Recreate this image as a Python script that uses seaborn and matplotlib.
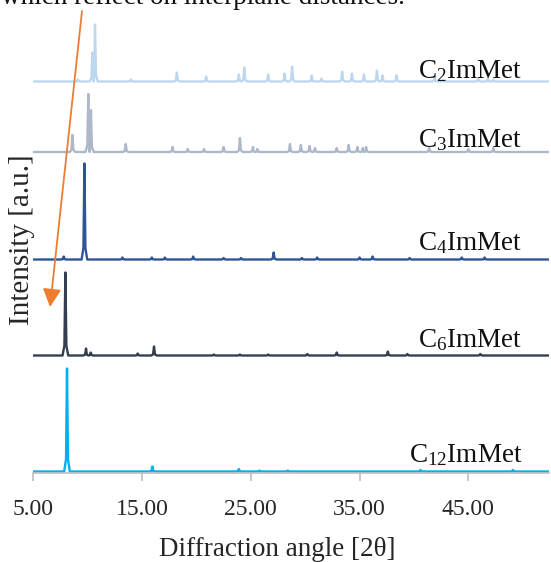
"""XRD patterns of CnImMet salts, stacked with vertical offsets."""
import matplotlib
matplotlib.use("Agg")
import matplotlib.pyplot as plt
import numpy as np
import pandas as pd
import seaborn as sns

# --- data: peak positions (2θ) and heights (a.u.) -------------------------- #
SAMPLES = ["C2", "C3", "C4", "C6", "C12"]
LABELS = ["C$_2$ImMet", "C$_3$ImMet", "C$_4$ImMet", "C$_6$ImMet", "C$_{12}$ImMet"]
OFFSETS = [391.5, 321.0, 213.5, 117.5, 1.5]
COLORS = ["#bdd7ee", "#adb9ca", "#2f5597", "#333f50", "#00b0f0"]

C2_POS = [9.1, 10.43, 10.67, 13.98, 18.2, 20.9, 23.9, 24.4, 26.6, 28.1, 28.8,
          30.6, 31.5, 33.4, 34.3, 35.4, 36.6, 37.1, 38.4, 41.9, 45.9, 46.8, 47.3]
C2_H = [2, 29, 57, 2, 9, 5, 7, 14, 7, 8, 15, 6, 3, 10, 8, 7, 11, 6, 6, 4, 3, 3, 2]

C3_POS = [8.6, 10.06, 10.3, 13.5, 17.8, 19.2, 20.7, 22.5, 24.0, 25.2, 25.6,
          28.6, 29.6, 30.4, 30.9, 32.9, 34.0, 34.8, 35.3, 35.6, 41.4, 45.0, 47.3]
C3_H = [17, 58, 42, 8, 5, 3, 3, 5, 14, 5, 3, 8, 7, 6, 4, 4, 7, 5, 4, 5, 4, 3, 4]

C4_POS = [7.8, 9.7, 13.2, 15.9, 17.1, 19.7, 22.5, 24.1, 27.1, 29.7, 31.1,
          35.0, 36.2, 39.6, 44.4, 46.5]
C4_H = [3, 96, 2, 2, 2, 3, 1.5, 1.5, 7, 1.5, 2, 2, 3, 1.5, 2, 2]

C6_POS = [7.95, 9.85, 10.28, 14.6, 16.1, 21.6, 24.0, 26.6, 30.2, 32.9, 37.6,
          39.4, 46.1]
C6_H = [83, 7, 3, 2, 9, 1, 1, 1, 1.5, 3, 4, 1.5, 1.5]

C12_POS = [8.1, 15.95, 23.9, 25.8, 28.4, 40.6, 49.1]
C12_H = [103, 5, 2.5, 1, 1, 1.5, 1.5]

PEAKS = {
    "C2": (C2_POS, C2_H),
    "C3": (C3_POS, C3_H),
    "C4": (C4_POS, C4_H),
    "C6": (C6_POS, C6_H),
    "C12": (C12_POS, C12_H),
}

X_MIN, X_MAX = 5.0, 52.42
X_TICKS = [5, 15, 25, 35, 45]


def spike_trace(pos, hts, base, hw=0.26):
    """Polyline of sharp peaks sitting on a flat baseline."""
    order = np.argsort(pos)
    pos = np.asarray(pos, float)[order]
    hts = np.asarray(hts, float)[order]
    xs, ys = [X_MIN], [base]
    for i, (p, h) in enumerate(zip(pos, hts)):
        wl = wr = hw
        if i > 0:
            wl = min(wl, (p - pos[i - 1]) / 2)
        if i < len(pos) - 1:
            wr = min(wr, (pos[i + 1] - p) / 2)
        # narrow tip on a slightly wider foot
        xs += [p - wl, p - wl * 0.35, p, p + wr * 0.35, p + wr]
        ys += [base, base + h * 0.12, base + h, base + h * 0.12, base]
    xs.append(X_MAX)
    ys.append(base)
    return xs, ys


rows = []
for s, off in zip(SAMPLES, OFFSETS):
    xs, ys = spike_trace(*PEAKS[s], base=off)
    rows.append(pd.DataFrame({"angle": xs, "intensity": ys, "sample": s}))
df = pd.concat(rows, ignore_index=True)

sns.set_theme(style="white")
plt.rcParams["font.family"] = ["Liberation Serif", "DejaVu Serif"]
plt.rcParams["mathtext.fontset"] = "custom"
plt.rcParams["mathtext.rm"] = "Liberation Serif"
plt.rcParams["mathtext.it"] = "Liberation Serif:italic"

W, H = 551, 562
fig = plt.figure(figsize=(W / 100, H / 100), dpi=100)
ax = fig.add_axes([33.3 / W, 1 - 473 / H, (549 - 33.3) / W, 468 / H])

sns.lineplot(data=df, x="angle", y="intensity", hue="sample",
             hue_order=SAMPLES, palette=dict(zip(SAMPLES, COLORS)),
             sort=False, estimator=None, legend=False, lw=1.7, ax=ax)

ax.set_xlim(X_MIN, X_MAX)
ax.set_ylim(0, 468)
ax.set_xticks(X_TICKS)
ax.set_xticklabels([f"{t:.2f}" for t in X_TICKS])
ax.set_yticks([])
for side in ("top", "right", "left"):
    ax.spines[side].set_visible(False)
ax.spines["bottom"].set_color("#bfbfbf")
ax.spines["bottom"].set_linewidth(1.2)
ax.tick_params(axis="x", direction="out", length=6, width=1.2,
               color="#bfbfbf", labelsize=17, pad=13, bottom=True)

ax.set_xlabel("Diffraction angle [2θ]", fontsize=19.5)
ax.xaxis.set_label_coords(0.4726, -0.137)
ax.set_ylabel("Intensity [a.u.]", fontsize=21)
ax.yaxis.set_label_coords(0.004, 0.499)

# sample labels, right-aligned near the right edge
LABEL_Y = [395, 326, 223, 126, 11]
for lab, y in zip(LABELS, LABEL_Y):
    ax.text(49.95, y, lab, ha="right", va="baseline", fontsize=19.5,
            color="#111111")

# orange trend arrow (first reflection shifts to lower angle)
ax.annotate("", xy=(6.54, 166), xytext=(9.48, 462),
            arrowprops=dict(arrowstyle="-|>,head_length=0.55,head_width=0.28",
                            color="#ed7d31", lw=1.3, mutation_scale=20,
                            shrinkA=0, shrinkB=0),
            annotation_clip=False, zorder=5)

# caption text line cut off by the top edge of the crop
fig.text(405 / W, 1 - 3.5 / H, "which reflect on interplane distances.",
         ha="right", va="baseline", fontsize=19.5, color="#111111")

fig.savefig("out.png", dpi=100)
